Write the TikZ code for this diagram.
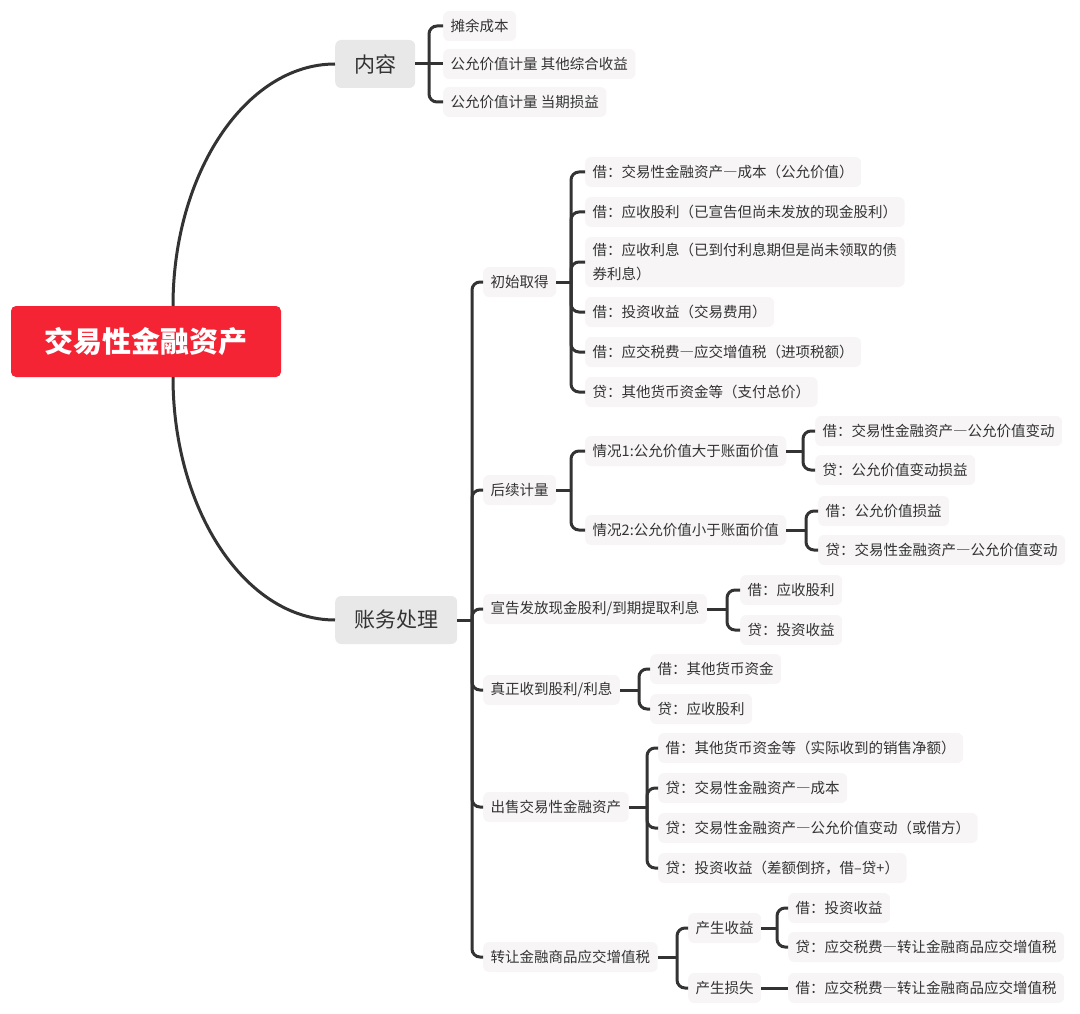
\documentclass[tikz,border=0pt]{standalone}
\usepackage{fontspec}
\setmainfont{Noto Sans CJK SC}
\usetikzlibrary{positioning}
\newcommand{\fwdash}{{\addfontfeature{RawFeature=+fwid}—}}
\definecolor{rootred}{HTML}{F42434}
\definecolor{lineg}{HTML}{333333}
\definecolor{txtg}{HTML}{333333}
\definecolor{lvlg}{HTML}{E8E8E8}
\definecolor{leafg}{HTML}{F7F5F5}
\tikzset{
  rootbox/.style={fill=rootred, rounded corners=5pt, text=white, font=\fontsize{29}{32}\selectfont\bfseries, minimum width=270pt, minimum height=71pt, inner sep=0pt},
  lvlbox/.style={fill=lvlg, rounded corners=6pt, text=txtg, font=\fontsize{21}{24}\selectfont, minimum height=48pt, inner xsep=19pt, inner ysep=0pt, anchor=west},
  leafbox/.style={fill=leafg, rounded corners=6pt, text=txtg, font=\fontsize{14.5}{24}\selectfont, minimum height=30pt, inner xsep=7.5pt, inner ysep=0pt, anchor=west, align=left},
  conn/.style={draw=lineg, line width=3pt, rounded corners=8pt},
  bar/.style={draw=lineg, line width=3pt},
}
\begin{document}
\begin{tikzpicture}[x=1pt,y=-1pt]
\useasboundingbox (0,0) rectangle (1080,1014);

% root and level 1
\node[rootbox] (root) at (146,341.5) {交易性金融资产};
\node[lvlbox] (nr) at (335,64) {内容};
\node[lvlbox] (zw) at (335,620) {账务处理};

\draw[bar] (173,306) .. controls (173,173) and (246,64) .. (nr.west);
\draw[bar] (173,377) .. controls (173,511) and (246,620) .. (zw.west);

% 内容 children
\node[leafbox] (a1) at (443,26) {摊余成本};
\node[leafbox] (a2) at (443,64) {公允价值计量 其他综合收益};
\node[leafbox] (a3) at (443,102) {公允价值计量 当期损益};
\draw[bar] (nr.east) -- (429,64) coordinate (ja);
\draw[conn] (ja) |- (a1.west);
\draw[bar] (ja) -- (a2.west);
\draw[conn] (ja) |- (a3.west);

% 账务处理 children
\node[leafbox] (b1) at (483,282) {初始取得};
\node[leafbox] (b2) at (483,490) {后续计量};
\node[leafbox] (b3) at (483,609) {宣告发放现金股利/到期提取利息};
\node[leafbox] (b4) at (483,690) {真正收到股利/利息};
\node[leafbox] (b5) at (483,807) {出售交易性金融资产};
\node[leafbox] (b6) at (483,957) {转让金融商品应交增值税};
\draw[bar] (zw.east) -- (472,620) coordinate (jb);
\foreach \c in {b1,b2,b3,b4,b5,b6} \draw[conn] (jb) |- (\c.west);

% 初始取得
\node[leafbox] (c1) at (585,172) {借：交易性金融资产\fwdash 成本（公允价值）};
\node[leafbox] (c2) at (585,212) {借：应收股利（已宣告但尚未发放的现金股利）};
\node[leafbox, minimum height=50pt] (c3) at (585,262) {借：应收利息（已到付利息期但是尚未领取的债\\券利息）};
\node[leafbox] (c4) at (585,312) {借：投资收益（交易费用）};
\node[leafbox] (c5) at (585,352) {借：应交税费\fwdash 应交增值税（进项税额）};
\node[leafbox] (c6) at (585,392) {贷：其他货币资金等（支付总价）};
\draw[bar] (b1.east) -- (571,282) coordinate (jc);
\foreach \c in {c1,c2,c3,c4,c5,c6} \draw[conn] (jc) |- (\c.west);

% 后续计量
\node[leafbox] (d1) at (585,451) {情况1:公允价值大于账面价值};
\node[leafbox] (d2) at (585,530) {情况2:公允价值小于账面价值};
\draw[bar] (b2.east) -- (571,490) coordinate (jd);
\foreach \c in {d1,d2} \draw[conn] (jd) |- (\c.west);

\node[leafbox] (e1) at (815,431) {借：交易性金融资产\fwdash 公允价值变动};
\node[leafbox] (e2) at (815,470) {贷：公允价值变动损益};
\draw[bar] (d1.east) -- (803,451) coordinate (je);
\foreach \c in {e1,e2} \draw[conn] (je) |- (\c.west);

\node[leafbox] (f1) at (818,511) {借：公允价值损益};
\node[leafbox] (f2) at (818,550) {贷：交易性金融资产\fwdash 公允价值变动};
\draw[bar] (d2.east) -- (806,530) coordinate (jf);
\foreach \c in {f1,f2} \draw[conn] (jf) |- (\c.west);

% 宣告发放
\node[leafbox] (g1) at (740,590) {借：应收股利};
\node[leafbox] (g2) at (740,630) {贷：投资收益};
\draw[bar] (b3.east) -- (727,609) coordinate (jg);
\foreach \c in {g1,g2} \draw[conn] (jg) |- (\c.west);

% 真正收到
\node[leafbox] (h1) at (650,669) {借：其他货币资金};
\node[leafbox] (h2) at (650,709) {贷：应收股利};
\draw[bar] (b4.east) -- (639,690) coordinate (jh);
\foreach \c in {h1,h2} \draw[conn] (jh) |- (\c.west);

% 出售
\node[leafbox] (i1) at (658,748) {借：其他货币资金等（实际收到的销售净额）};
\node[leafbox] (i2) at (658,788) {贷：交易性金融资产\fwdash 成本};
\node[leafbox] (i3) at (658,828) {贷：交易性金融资产\fwdash 公允价值变动（或借方）};
\node[leafbox] (i4) at (658,868) {贷：投资收益（差额倒挤，借–贷+）};
\draw[bar] (b5.east) -- (647,807) coordinate (ji);
\foreach \c in {i1,i2,i3,i4} \draw[conn] (ji) |- (\c.west);

% 转让
\node[leafbox] (k1) at (688,928) {产生收益};
\node[leafbox] (k2) at (688,988) {产生损失};
\draw[bar] (b6.east) -- (677,957) coordinate (jk);
\foreach \c in {k1,k2} \draw[conn] (jk) |- (\c.west);

\node[leafbox] (m1) at (788,908) {借：投资收益};
\node[leafbox] (m2) at (788,947) {贷：应交税费\fwdash 转让金融商品应交增值税};
\draw[bar] (k1.east) -- (777,928) coordinate (jm);
\foreach \c in {m1,m2} \draw[conn] (jm) |- (\c.west);

\node[leafbox] (n1) at (788,988) {借：应交税费\fwdash 转让金融商品应交增值税};
\draw[bar] (k2.east) -- (n1.west);
\end{tikzpicture}
\end{document}
